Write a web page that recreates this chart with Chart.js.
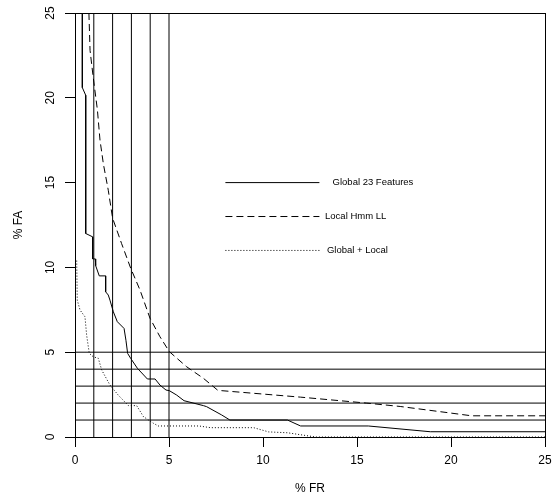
<!DOCTYPE html>
<html>
<head>
<meta charset="utf-8">
<script src="https://cdn.jsdelivr.net/npm/chart.js@4.4.1/dist/chart.umd.min.js"></script>
<style>
  html, body { margin: 0; padding: 0; background: #fff; }
</style>
</head>
<body>
<canvas id="rocChart" width="552" height="500"></canvas>
<script>
// axis range and ticks
const axisMax = 25;
const axisTicks = [0, 5, 10, 15, 20, 25];
const refLevels = [1, 2, 3, 4, 5];

// Global 23 Features (solid)
const globalFR = [0.39, 0.39, 0.57, 0.57, 0.94, 0.94, 1.08, 1.1, 1.29, 1.63, 1.63, 1.77, 1.86, 2.04, 2.25, 2.61, 2.71, 2.8, 2.96, 3.32, 3.85, 4.26, 4.52, 4.84, 5.02, 5.41, 5.8, 6.83, 7.0, 7.8, 8.24, 11.3, 12.0, 15.6, 18.9, 25];
const globalFA = [25, 20.6, 20.15, 12.0, 11.8, 10.5, 10.5, 10.1, 9.5, 9.5, 8.56, 8.37, 8.07, 7.38, 6.8, 6.4, 5.7, 4.93, 4.64, 4.05, 3.42, 3.42, 3.06, 2.77, 2.73, 2.47, 2.14, 1.85, 1.79, 1.3, 1.0, 1.0, 0.65, 0.65, 0.31, 0.31];

// Local Hmm LL (dashed)
const localFR = [0.74, 0.8, 0.97, 1.19, 1.33, 1.51, 1.77, 2.0, 2.48, 2.96, 3.46, 3.99, 4.52, 5.02, 5.94, 6.83, 7.6, 12.0, 15.5, 17.3, 21.1, 25];
const localFA = [25, 22.8, 21.2, 19.3, 17.5, 16.1, 14.55, 12.9, 11.4, 9.96, 8.66, 7.0, 5.91, 5.03, 4.14, 3.46, 2.75, 2.35, 2.0, 1.8, 1.25, 1.25];

// Global + Local (dotted)
const comboFR = [0.09, 0.12, 0.27, 0.53, 0.62, 0.76, 0.97, 1.24, 1.42, 1.86, 2.3, 2.84, 3.28, 3.64, 4.17, 4.43, 6.6, 7.2, 9.5, 10.3, 11.3, 12.8, 25];
const comboFA = [10.4, 8.07, 7.48, 7.09, 6.0, 4.93, 4.73, 4.64, 3.95, 3.06, 2.47, 1.85, 1.85, 1.2, 0.81, 0.65, 0.65, 0.55, 0.55, 0.3, 0.25, 0, 0];

const seriesNames = ['Global 23 Features', 'Local Hmm LL', 'Global + Local'];

const FONT = '"Liberation Sans", Arial, Helvetica, sans-serif';

function pts(xs, ys) {
  return xs.map((x, i) => ({ x: x, y: ys[i] }));
}

function lineSet(data, dash, label) {
  return {
    label: label,
    data: data,
    showLine: true,
    borderColor: '#000',
    borderWidth: 1,
    borderDash: dash,
    pointRadius: 0,
    tension: 0,
    fill: false
  };
}

const datasets = [];
// the reference lines at 1..5 on both axes
refLevels.forEach(k => {
  datasets.push(lineSet([{ x: k, y: 0 }, { x: k, y: axisMax }], [], ''));
  datasets.push(lineSet([{ x: 0, y: k }, { x: axisMax, y: k }], [], ''));
});
datasets.push(lineSet(pts(globalFR, globalFA), [], seriesNames[0]));
datasets.push(lineSet(pts(localFR, localFA), [7, 4], seriesNames[1]));
datasets.push(lineSet(pts(comboFR, comboFA), [1, 2], seriesNames[2]));

// key drawn inside the plot, in data units
const keyLayout = {
  lineFrom: 8, lineTo: 13,
  rows: [15, 13, 11],
  textX: [13.7, 13.3, 13.4],
  dashes: [[], [7, 4], [1, 2]]
};

const rLook = {
  id: 'rLook',
  afterDraw(chart) {
    const ctx = chart.ctx;
    const a = chart.chartArea;
    const xs = chart.scales.x, ys = chart.scales.y;
    ctx.save();
    ctx.strokeStyle = '#000';
    ctx.lineWidth = 1;
    ctx.strokeRect(Math.round(a.left) + 0.5, Math.round(a.top) + 0.5,
      Math.round(a.right - a.left), Math.round(a.bottom - a.top));

    // y tick labels, rotated like R
    ctx.fillStyle = '#000';
    ctx.font = '12px ' + FONT;
    ctx.textAlign = 'center';
    ctx.textBaseline = 'middle';
    axisTicks.forEach(v => {
      ctx.save();
      ctx.translate(a.left - 24, ys.getPixelForValue(v));
      ctx.rotate(-Math.PI / 2);
      ctx.fillText(String(v), 0, 0);
      ctx.restore();
    });

    // axis titles
    ctx.fillText('% FR', (a.left + a.right) / 2, 489);
    ctx.save();
    ctx.translate(19, (a.top + a.bottom) / 2);
    ctx.rotate(-Math.PI / 2);
    ctx.fillText('% FA', 0, 0);
    ctx.restore();

    // key
    ctx.font = '9.5px ' + FONT;
    ctx.textAlign = 'left';
    keyLayout.rows.forEach((yv, i) => {
      const py = ys.getPixelForValue(yv);
      ctx.setLineDash(keyLayout.dashes[i]);
      ctx.beginPath();
      ctx.moveTo(xs.getPixelForValue(keyLayout.lineFrom), py);
      ctx.lineTo(xs.getPixelForValue(keyLayout.lineTo), py);
      ctx.stroke();
      ctx.setLineDash([]);
      ctx.fillText(seriesNames[i], xs.getPixelForValue(keyLayout.textX[i]), py);
    });
    ctx.restore();
  }
};

new Chart(document.getElementById('rocChart'), {
  type: 'scatter',
  data: { datasets: datasets },
  options: {
    responsive: false,
    animation: false,
    devicePixelRatio: 1,
    layout: { padding: { top: 13, right: 7, left: 0, bottom: 0 } },
    plugins: {
      legend: { display: false },
      tooltip: { enabled: false }
    },
    scales: {
      x: {
        type: 'linear',
        min: 0,
        max: axisMax,
        afterFit(scale) {
          scale.height = 63;
          scale.paddingLeft = 0;
          scale.paddingRight = 0;
        },
        ticks: {
          stepSize: 5,
          color: '#000',
          font: { family: FONT, size: 12 },
          padding: 6,
          maxRotation: 0
        },
        grid: { drawOnChartArea: false, drawTicks: true, tickLength: 10, color: '#000' },
        border: { display: true, color: '#000' }
      },
      y: {
        type: 'linear',
        min: 0,
        max: axisMax,
        afterFit(scale) {
          scale.width = 75;
          scale.paddingTop = 0;
          scale.paddingBottom = 0;
        },
        ticks: { stepSize: 5, display: false },
        grid: { drawOnChartArea: false, drawTicks: true, tickLength: 10, color: '#000' },
        border: { display: true, color: '#000' }
      }
    }
  },
  plugins: [rLook]
});
</script>
</body>
</html>
